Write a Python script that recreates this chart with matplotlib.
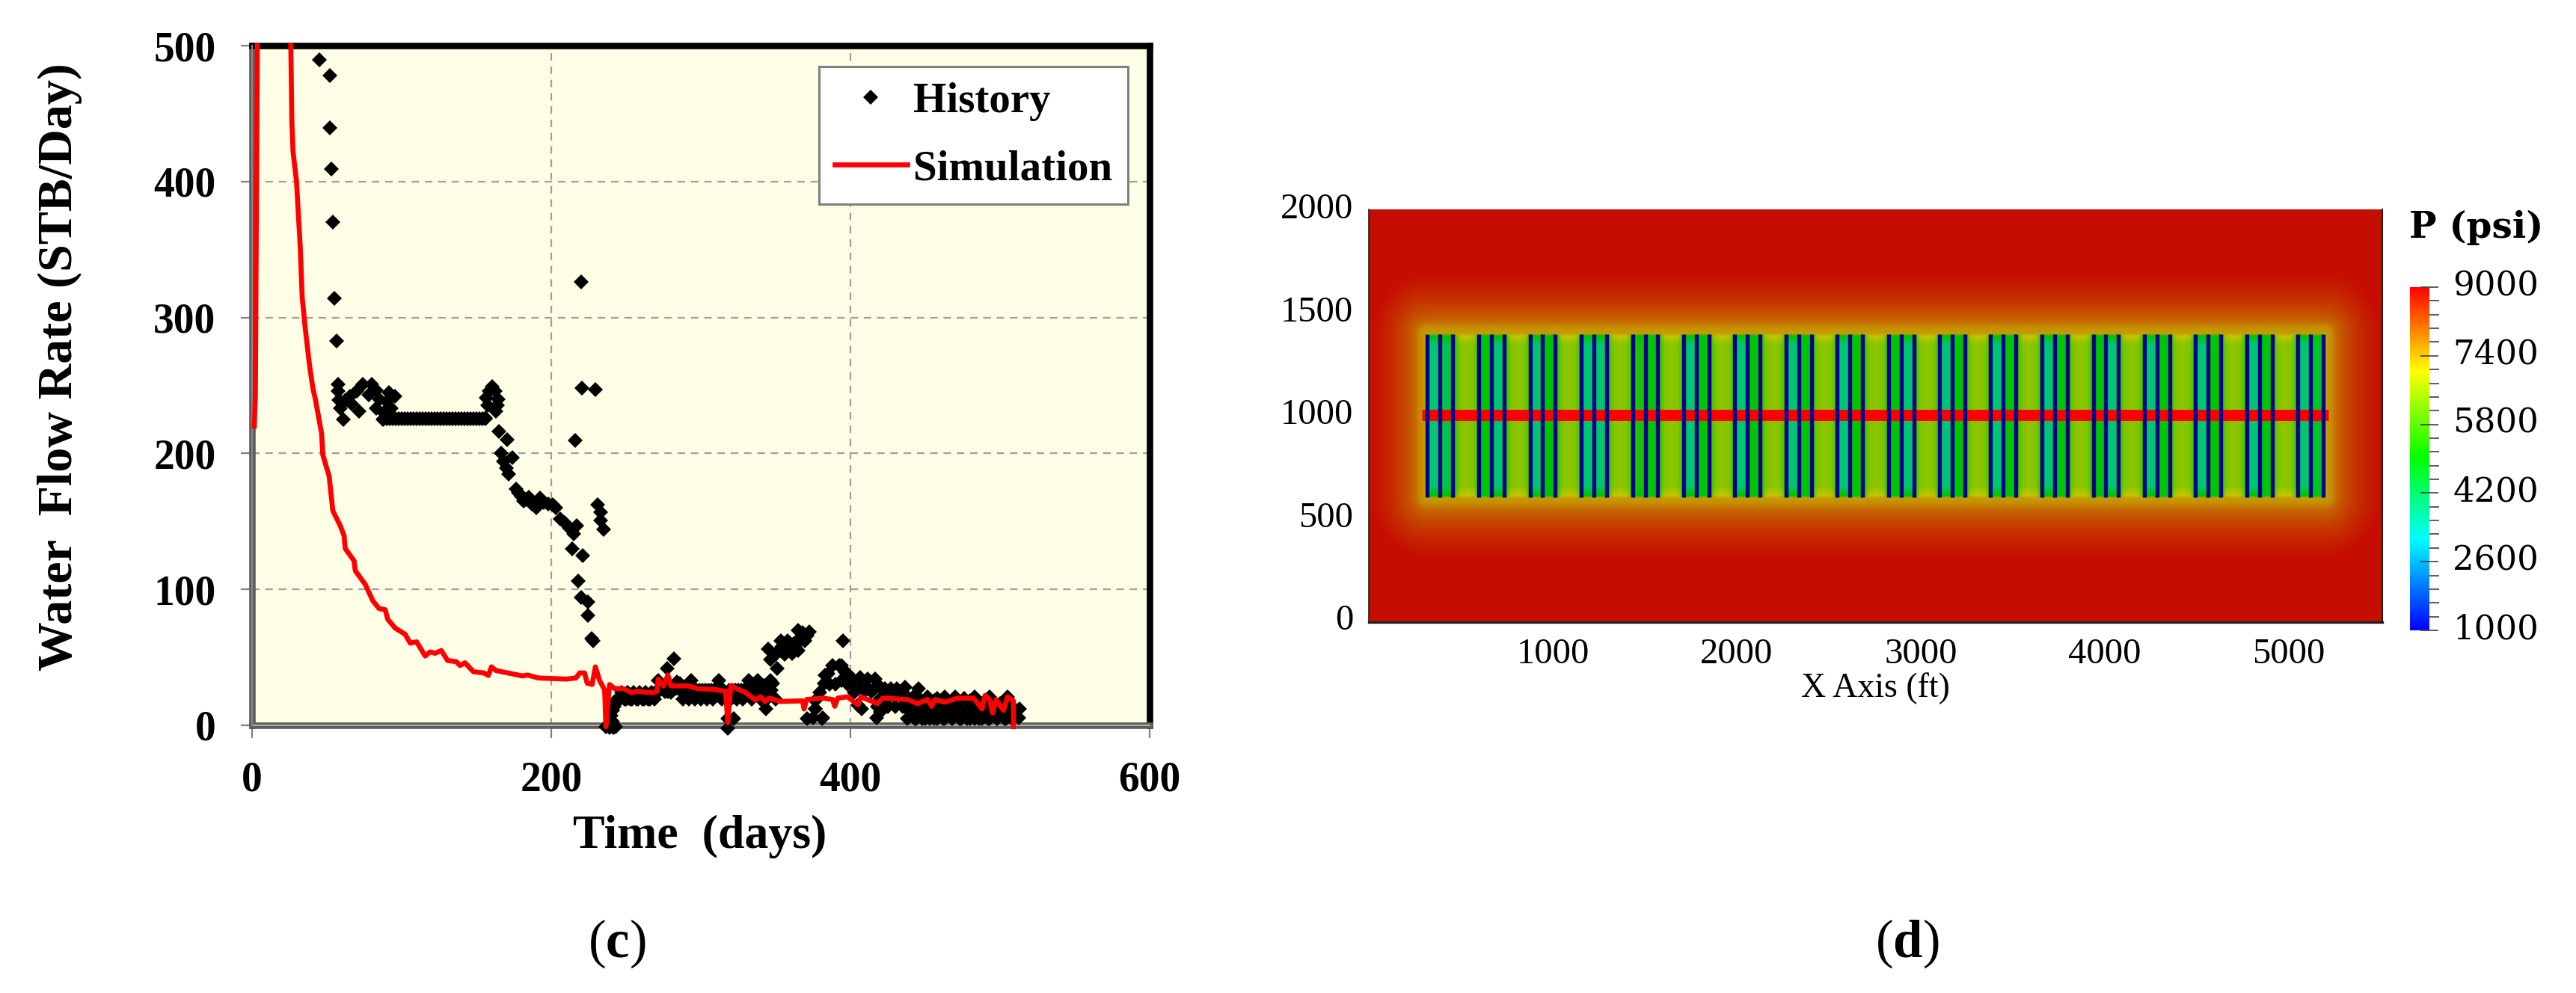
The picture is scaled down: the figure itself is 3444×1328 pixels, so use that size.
import numpy as np
import matplotlib
matplotlib.use("Agg")
import matplotlib.pyplot as plt
from matplotlib.colors import LinearSegmentedColormap, Normalize
from matplotlib.cm import ScalarMappable
from matplotlib.transforms import ScaledTranslation
from matplotlib.ticker import FixedLocator, NullFormatter

W, H = 3444, 1328

# ---------- panel (c) data ----------
flat_t = [88, 90, 92, 94, 96, 98, 100, 102, 104, 106, 108, 110, 112, 114, 116, 118, 120, 122,
          124, 126, 128, 130, 132, 134, 136, 138, 140, 142, 144, 146, 148, 150, 152, 154, 156]
flat_q = [225.5] * 35

early_t = [45, 52, 52, 53, 54, 55, 56.5, 57.5, 57.3, 58.2, 59, 61.2, 62.3, 65.7, 69.8, 74, 79.8, 83.2,
           71.5, 78.2, 91.5, 95.7, 83.2, 87.3, 89.8, 93.2, 66.5, 84.8, 88.2]
early_q = [489.5, 478, 439.5, 409, 370, 314, 283, 251, 245.8, 239, 233, 224.7, 239, 242, 245.8, 251, 251, 246.6,
           231, 243, 245, 242, 233, 225, 238, 233, 236.6, 240, 230]

decline_t = [160.7, 158.5, 162.5, 156.5, 164.5, 157.5, 164, 163, 156, 164.8, 170.7, 166.5, 174, 168, 170, 171.5,
             176.5, 180, 181.5, 185, 190, 192.3, 198, 203, 206, 212, 217, 214, 221, 218, 220, 224.5, 224.5,
             227, 228, 216, 220, 220.7, 229.3, 231, 233, 233, 235, 178, 183, 187, 195, 201, 209, 215]
decline_q = [249.4, 245.8, 245.8, 241, 240, 235.6, 235.6, 231, 226, 216, 210, 200, 197, 194, 189, 185,
             174, 168.5, 165, 168, 160, 167, 163, 160, 152, 145, 147, 130, 124.7, 106, 94, 91, 81,
             64, 62, 209.5, 326, 248, 247, 162, 157, 150.5, 144, 171, 166, 163, 164, 162, 149, 141]

late1_t = [236.5, 239, 241.5, 243, 241, 240, 241, 242, 243, 245, 246, 248, 250, 252, 254, 256, 258, 260, 262,
           264, 266, 268, 270, 271.5, 274, 276, 278, 280, 282, 277.6, 284, 286, 288, 290, 292, 293.5, 296, 298,
           300, 302, 304, 306, 308, 310, 312, 314, 316, 317.8, 317.8, 320, 322, 322, 324, 326, 328, 330, 332,
           334, 336, 338, 340, 342, 343.7, 346.5]
late1_q = [-1, -1.5, -1.5, -1, 3, 7, 11, 14, 18, 20, 19, 21, 19, 20, 19, 22, 19, 22, 19,
           20, 19, 23, 25, 33, 27, 25, 25, 24, 49, 42, 32, 31, 19, 24, 19, 33, 19, 25,
           19, 24, 19, 25, 19, 24, 33, 19, 24, 5, -2, 19, 5, 24, 19, 24, 19, 22, 33,
           19, 24, 33, 19, 24, 12, 33]

band_t = [247, 249, 251, 253, 255, 257, 259, 261, 263, 265, 267, 269, 271, 273, 275, 277, 279, 281, 283, 285, 287,
          289, 291, 293, 295, 297, 299, 301, 303, 305, 307, 309, 311, 313, 315, 319, 321, 323, 325, 327, 329, 331,
          333, 335, 337, 339, 341, 335, 345, 332, 338, 342, 347, 350, 344]
band_q = [24, 19, 24, 19, 24, 19, 24, 19, 24, 19, 24, 19, 24, 27, 27, 27, 27, 27, 27, 27, 26,
          26, 26, 26, 26, 26, 26, 26, 26, 26, 26, 26, 26, 26, 26, 26, 26, 26, 26, 26, 26, 26,
          26, 26, 26, 26, 26, 30, 24, 29, 29, 29, 26, 19, 19]

late2_t = [345, 346.5, 351, 348, 353.7, 353.7, 358, 358, 362, 365, 365, 368, 369.5, 372.4, 371, 381, 376.7,
           388, 394, 385, 382.4, 379.5, 376.7, 398, 401, 402.5, 394.8, 392.3, 383, 396.5, 401.5, 406.5, 411.5,
           416.5, 419, 423, 427, 431, 436.5, 445.7, 407.3, 405, 417.3, 381.5, 375, 376.5, 410, 414, 420, 425,
           430, 435, 440, 443, 386, 390, 394, 398, 404, 408, 412, 416, 422, 426, 430, 434, 438, 442, 418, 420,
           354, 357, 360, 363, 366, 350, 356, 361, 367, 371]
late2_q = [56, 48.5, 42, 31, 62, 55, 62, 55, 60, 55, 70, 68, 62, 69, 5, 5, 12,
           44, 44, 38, 31, 24, 18, 38, 31, 24, 62.3, 44, 37, 39, 34, 35, 34,
           34, 29, 27, 27, 27, 28, 27, 12, 15, 5.5, 5.5, 5.5, 12, 26, 25, 20, 14,
           14, 14, 14, 14, 30, 30, 33, 30, 28, 27, 27, 27, 21, 21, 21, 21, 21, 21, 14, 10,
           58, 58, 58, 58, 64, 52, 52, 53, 64, 66]

tail_t = [438, 441, 444, 447, 450, 451.5, 453, 456, 459, 462, 463, 465, 468, 470, 471, 474, 477, 480, 483, 483,
          486, 489, 492, 493, 495, 498, 501, 504, 505, 507, 509, 512.3, 513, 446, 452, 458, 464, 470, 476, 482,
          488, 494, 500, 506, 449, 455, 461, 467, 473, 479, 485, 491, 497, 503, 444, 456, 468, 480, 492, 504,
          443, 448, 453, 458, 463, 468, 473, 478, 483, 488, 493, 498, 503, 508,
          440, 445, 450, 455, 460, 465, 470, 475, 480, 485, 490, 495, 500, 505, 510]
tail_q = [5, 10, 5, 15, 5, 21, 10, 5, 15, 5, 21, 10, 5, 21, 15, 5, 10, 5, 21, 15,
          5, 10, 5, 21, 15, 5, 10, 5, 21, 15, 5.5, 5.5, 12, 20, 15, 20, 12, 16, 20, 12,
          16, 12, 16, 12, 12, 17, 12, 17, 12, 17, 12, 17, 12, 17, 18, 18, 18, 18, 18, 18,
          5, 5, 5, 5, 5, 5, 5, 5, 5, 5, 5, 5, 5, 5,
          10, 10, 10, 10, 10, 10, 10, 10, 10, 10, 10, 10, 10, 10, 10]

# the blank point marks where the curve runs off the top of the plot
sim_t = [1.5, 2.2, 3.5, 14, 25.9, 26.6, 27.4, 29.7, 32.2, 33.5, 35.6, 38.4, 40.7, 42.3, 46.5, 47.3, 51.5, 54, 59, 61.5, 62.3,
         68.2, 69, 75.7, 80.7, 84.8, 89, 90.7, 95.7, 102.3, 105.7, 110, 115.7, 119, 122.3, 126.5, 130.7, 136.5,
         139, 142.3, 148, 155, 158, 160, 163, 175, 180.7, 184, 191.5, 210, 216.5, 219, 222.3, 224, 227.3, 229.5,
         232.3, 235.7, 236.5, 239, 242.3, 248, 254, 256.5, 268, 270.7, 271.5, 275, 278, 280, 291.5, 298, 308,
         316.5, 318, 320, 330, 336.5, 340, 343, 345.7, 353, 368, 369, 370.7, 381.5, 388, 389.5, 391.5, 398, 405,
         407, 418, 421.5, 438, 445, 451.5, 454.3, 456.5, 463, 471.5, 482.3, 488, 490, 493, 495, 497.3, 502.3,
         505, 509, 509]
sim_q = [220, 242, 500, None, 500, 444, 422, 400, 352, 315, 291.5, 265, 247.5, 240, 214.5, 199, 183.3, 157.8, 146.7, 139.4, 130,
         121, 113.7, 103.6, 91.7, 86, 85, 78, 71.5, 67, 60.5, 61.4, 51, 54, 53, 55, 47.7, 46.8,
         44, 46, 39.4, 38.5, 36.7, 43, 40.3, 37.6, 36.3, 37, 34.8, 34, 34.8, 38.5, 38.5, 31, 30, 43,
         33, 26, -1, 30, 27, 27, 24, 25, 24, 25, 34, 29, 37, 29, 29, 27, 26.5,
         25, 1.8, 29, 24, 18.5, 21, 17.5, 20, 17.5, 18, 12, 19, 20, 19, 14, 20, 21, 15,
         21, 16, 20, 19, 16, 19, 14, 19, 17, 20, 20, 12, 22, 19, 9, 19, 11,
         21, 18, -1]

x_ticks_c = [0, 200, 400, 600]
y_ticks_c = [0, 100, 200, 300, 400, 500]

# ---------- panel (d) data ----------
stage_x = [388, 667, 945, 1223, 1502, 1780, 2058, 2336, 2615, 2893, 3171, 3449, 3728, 4006, 4284, 4562, 4841, 5119]
frac_offset = [-69, 0, 69]
gap_left_p = [3950, 5000, 3950, 3950, 5300, 3950, 3950, 3950, 3950, 5000, 3950, 3950, 3950, 5000, 3950, 3950, 3950, 3950]
gap_right_p = [4300, 3950, 5000, 3950, 5000, 5000, 5000, 5000, 5000, 3950, 5000, 5000, 5000, 3950, 5000, 5000, 4900, 4700]
well_y = 982
well_x = [289, 5215]
srv_y = [582, 1375]
halo_dist = [0, 40, 60, 110, 170, 240, 300]
halo_p = [7400, 7650, 7950, 8250, 8500, 8720, 8850]
x_ticks_d = [1000, 2000, 3000, 4000, 5000]
y_ticks_d = [0, 500, 1000, 1500, 2000]
cbar_ticks = [1000, 2600, 4200, 5800, 7400, 9000]
cbar_minor = [1320, 1640, 1960, 2280, 2920, 3240, 3560, 3880, 4520, 4840, 5160, 5480,
              6120, 6440, 6760, 7080, 7720, 8040, 8360, 8680]
rainbow_stops = [0, 0.266, 0.504, 0.756, 1]
rainbow_cols = [(0, 0, 1), (0, 1, 1), (0, 1, 0), (1, 1, 0), (1, 0, 0)]
shade = 0.775

plt.rcParams["mathtext.fontset"] = "custom"
plt.rcParams["mathtext.rm"] = "Liberation Serif"
plt.rcParams["mathtext.bf"] = "Liberation Serif:bold"

fig = plt.figure(figsize=(W / 100, H / 100), dpi=100, facecolor="white")


def rect(x0, y0, x1, y1):
    return [x0 / W, 1 - y1 / H, (x1 - x0) / W, (y1 - y0) / H]


# ---------- panel (c) ----------
ax = fig.add_axes(rect(337, 61, 1537, 970), facecolor="#FEFEE6")
ax.set_xlim(0, 600)
ax.set_ylim(0, 500)
ax.grid(True, color="#A0A0A0", lw=1.6, linestyle=(0, (4.5, 3.5)), zorder=1)
ax.set_axisbelow(True)
hist_t = early_t + flat_t + decline_t + late1_t + band_t + late2_t + tail_t
hist_q = early_q + flat_q + decline_q + late1_q + band_q + late2_q + tail_q
ax.plot(hist_t, hist_q, ls="none", marker="D", ms=10.4, mec="black", mfc="black", mew=0,
        clip_on=False, zorder=4, label="History")
ax.plot(sim_t, np.array(sim_q, dtype=float), color="#FF0000", lw=4.8, clip_on=False, zorder=5, label="Simulation",
        solid_joinstyle="round")
ax.set_xticks(x_ticks_c)
ax.set_yticks(y_ticks_c)
lab_font = dict(family="Liberation Serif", weight="bold")
ax.tick_params(axis="x", length=12, width=1.6, color="#808080", pad=22, labelsize=40)
ax.tick_params(axis="y", length=11, width=1.6, color="#808080", pad=24, labelsize=40)
for t in ax.get_xticklabels() + ax.get_yticklabels():
    t.set_fontproperties(matplotlib.font_manager.FontProperties(family="Liberation Serif", weight="bold", size=40))
ax.set_xlabel("Time  (days)", fontsize=46, **lab_font)
ax.xaxis.set_label_coords(936 / W, 1 - 1134 / H, transform=fig.transFigure)
ax.xaxis.label.set_va("baseline")
ax.set_ylabel("Water  Flow Rate (STB/Day)", fontsize=47.5, **lab_font)
ax.yaxis.set_label_coords(96 / W, 1 - 491 / H, transform=fig.transFigure)
ax.yaxis.label.set_va("baseline")
for s in ["top", "right"]:
    ax.spines[s].set_color("black")
    ax.spines[s].set_linewidth(6.2)
for s in ["left", "bottom"]:
    ax.spines[s].set_color("#5E5E5E")
    ax.spines[s].set_linewidth(6.2)
ax.plot([0, 1], [0, 0], transform=ax.transAxes, color="#B0B0B0", lw=1.4, clip_on=False, zorder=3)
ax.plot([0, 0], [0, 1], transform=ax.transAxes, color="#8A8A8A", lw=1.4, clip_on=False, zorder=3)
leg = ax.legend(loc="upper left", bbox_to_anchor=((1095 - 337) / 1200, 1 - (89 - 61) / 909),
                borderaxespad=0, prop=dict(family="Liberation Serif", weight="bold", size=41),
                handlelength=1.72, handletextpad=0.14, borderpad=0.36, labelspacing=0.68,
                numpoints=1, fancybox=False, framealpha=1, edgecolor="#808080", facecolor="white")
leg.get_frame().set_linewidth(2.2)
leg.set_zorder(6)

# ---------- panel (d) ----------
cmap_bright = LinearSegmentedColormap.from_list("rb", list(zip(rainbow_stops, rainbow_cols)), N=512)
cmap_field = LinearSegmentedColormap.from_list(
    "rbd", list(zip(rainbow_stops, [tuple(shade * c for c in col) for col in rainbow_cols])), N=512)
norm = Normalize(1000, 9000)

# the 2000 label stands just above the picture, so the axes reach up to it
ax2 = fig.add_axes(rect(1830, 275, 3185, 832))
xlim_d = (0, 5508)
ylim_d = (-25, 2000)
image_top = 1982
xs = np.arange(xlim_d[0], xlim_d[1] + 1, 12.0)
ys = np.arange(ylim_d[0], image_top + 1, 12.0)
col_mid = np.full(xs.shape, 6400.0)
col_edge = np.full(xs.shape, 7000.0)
for i in range(len(stage_x) - 1):
    a, b = stage_x[i] + 69, stage_x[i + 1] - 69
    m = (xs >= a) & (xs <= b)
    u = np.abs(xs[m] - (a + b) / 2) / ((b - a) / 2)
    col_mid[m] = np.interp(u, [0, 0.55, 1], [6500, 6300, 5300])
    col_edge[m] = np.interp(u, [0, 0.55, 1], [7050, 6900, 5300])
for c, pl, pr in zip(stage_x, gap_left_p, gap_right_p):
    m = (xs >= c - 69) & (xs < c)
    col_mid[m] = pl
    col_edge[m] = 5000
    m = (xs >= c) & (xs <= c + 69)
    col_mid[m] = pr
    col_edge[m] = 5000
xl, xr = stage_x[0] - 80, stage_x[-1] + 80
dx = np.maximum(np.maximum(xl - xs, xs - xr), 0)
P = np.zeros((ys.size, xs.size))
for j, y in enumerate(ys):
    dy = max(srv_y[0] - y, y - srv_y[1], 0)
    d = np.hypot(dx, dy)
    band = max(srv_y[0] + 50 - y, y - (srv_y[1] - 50), 0) / 50
    inside = col_mid + (col_edge - col_mid) * min(band * 1.3, 1)
    P[j] = np.where(d > 0, np.interp(d, halo_dist, halo_p), inside)
ax2.imshow(P, origin="lower", extent=(xs[0], xs[-1], ys[0], ys[-1]), cmap=cmap_field, norm=norm,
           aspect="auto", interpolation="bilinear", zorder=1)
ax2.set_xlim(xlim_d)
ax2.set_ylim(ylim_d)
ax2.hlines(well_y, well_x[0], well_x[1], color="#FF0000", lw=10.8, zorder=2)
ax2.vlines([c + o for c in stage_x for o in frac_offset], srv_y[0], srv_y[1], color="#00008C", lw=3.9, zorder=3)
ax2.set_xticks(x_ticks_d)
ax2.set_yticks(y_ticks_d)
ax2.tick_params(length=0, labelsize=34, pad=15)
fp = matplotlib.font_manager.FontProperties(family="Liberation Serif", size=35)
for t in ax2.get_xticklabels() + ax2.get_yticklabels():
    t.set_fontproperties(fp)
ax2.tick_params(axis="x", pad=15)
ax2.set_xlabel("X Axis (ft)", fontsize=33, family="Liberation Serif")
ax2.xaxis.set_label_coords(2507 / W, 1 - 921 / H, transform=fig.transFigure)
ax2.xaxis.label.set_va("center")
ax2.spines["top"].set_visible(False)
for s, lw_ in [("left", 1.2), ("right", 1.5), ("bottom", 2.4)]:
    ax2.spines[s].set_color("#202020")
    ax2.spines[s].set_linewidth(lw_)
ax2.spines["left"].set_bounds(ylim_d[0], image_top)
ax2.spines["right"].set_bounds(ylim_d[0], image_top)

cax = fig.add_axes(rect(3222, 384, 3248, 843))
cb = fig.colorbar(ScalarMappable(norm=norm, cmap=cmap_bright), cax=cax)
cb.set_ticks(cbar_ticks)
cb.outline.set_visible(False)
cax.yaxis.set_minor_locator(FixedLocator(cbar_minor))
cax.yaxis.set_minor_formatter(NullFormatter())
cax.tick_params(which="major", direction="inout", length=17, width=1.2, color="#404040", pad=14, labelsize=32.5)
cax.tick_params(which="minor", direction="out", length=9.4, width=1.2, color="#404040")
for t in cax.get_yticklabels():
    t.set_family("DejaVu Serif")
    t.set_fontsize(32.5)
    t.set_transform(t.get_transform() + ScaledTranslation(0, 6 / 100, fig.dpi_scale_trans))
fig.text(3311 / W, 1 - 304 / H, "P (psi)", family="DejaVu Serif", weight="bold", fontsize=35,
         ha="center", va="center")

# ---------- captions ----------
for cx, s in [(825, r"$\mathrm{(}\mathbf{c}\mathrm{)}$"), (2550, r"$\mathrm{(}\mathbf{d}\mathrm{)}$")]:
    fig.text(cx / W, 1 - 1262 / H, s, fontsize=51, ha="center", va="center")

fig.savefig("out.png", dpi=100)
